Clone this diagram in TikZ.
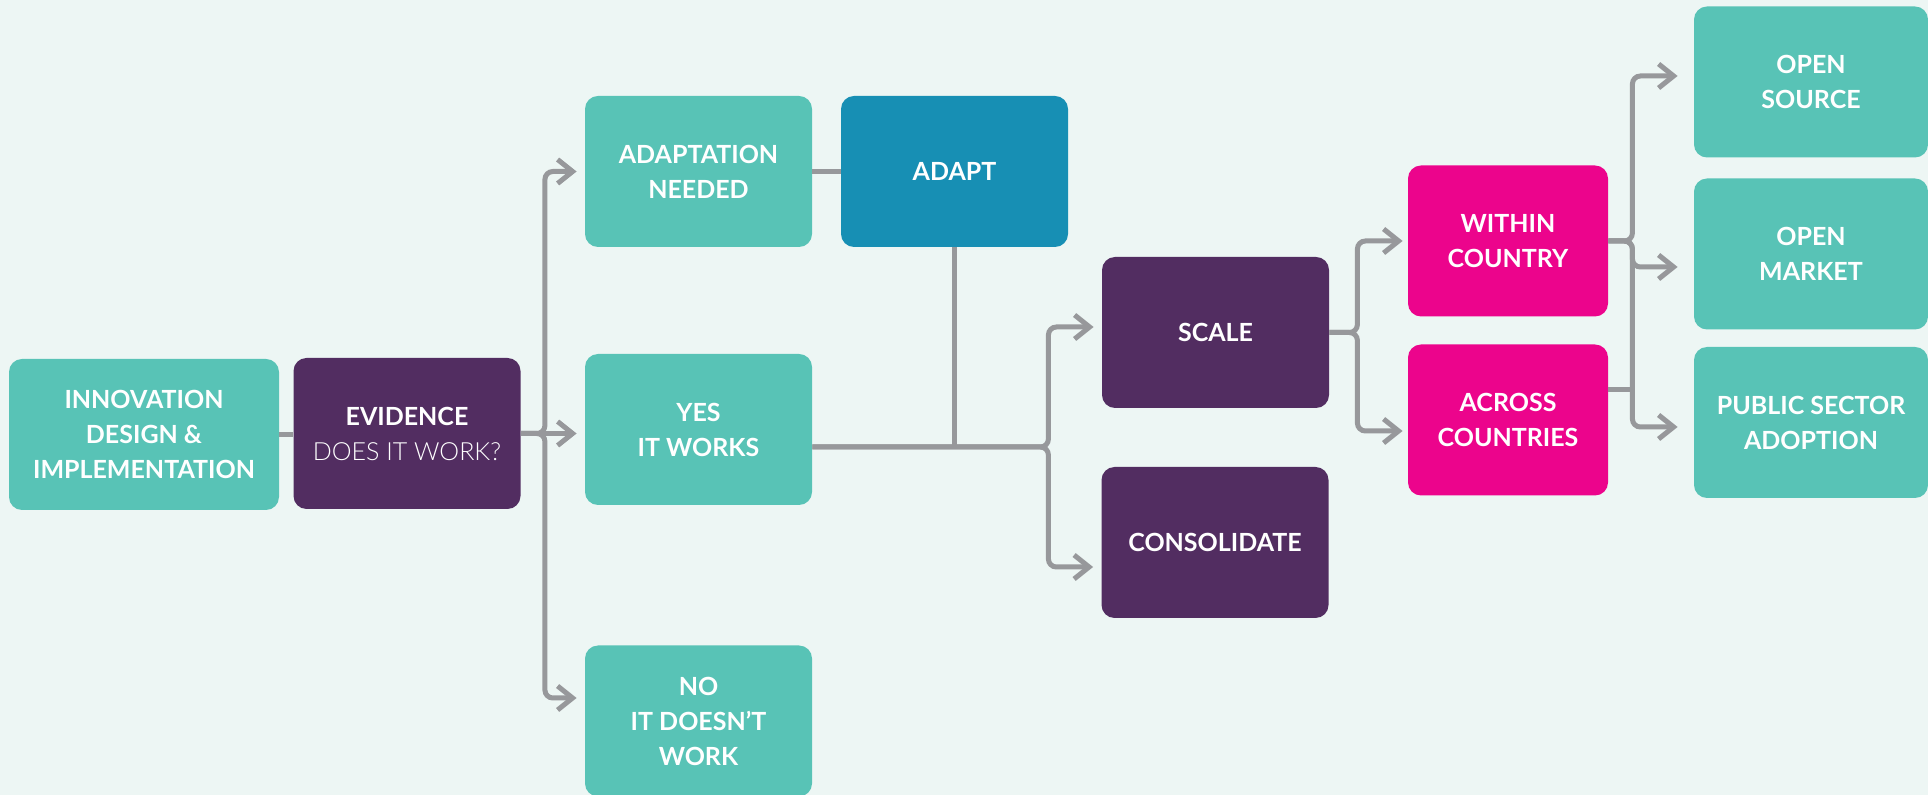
\documentclass[tikz,border=0pt]{standalone}
\usepackage{fontspec}
\setmainfont{Lato}
\newfontfamily\latolight{Lato Light}
\usetikzlibrary{arrows.meta}

\definecolor{bgmint}{RGB}{237,246,244}
\definecolor{boxgreen}{RGB}{88,195,182}
\definecolor{boxpurple}{RGB}{82,45,97}
\definecolor{boxblue}{RGB}{23,143,180}
\definecolor{boxpink}{RGB}{236,4,140}
\definecolor{linegrey}{RGB}{151,152,155}

\begin{document}
\begin{tikzpicture}[x=0.5pt,y=-0.5pt]
        \tikzstyle{box}=[rectangle,rounded corners=6.5pt,minimum height=75.5pt,inner sep=0pt,text=white,align=center,font=\bfseries\fontsize{12.5}{17.5}\selectfont]
        \tikzstyle{greenbox}=[box,fill=boxgreen]
        \tikzstyle{purplebox}=[box,fill=boxpurple,minimum width=113.5pt]
        \tikzstyle{pinkbox}=[box,fill=boxpink,minimum width=100pt]
        \tikzstyle{link}=[draw=linegrey,line width=2.5pt,rounded corners=4pt]
        \tikzstyle{arrow}=[link,-{Straight Barb[length=7.5pt,width=12pt]},shorten >=4pt]

        \fill[bgmint] (0,0) rectangle (1928,795);
        \useasboundingbox (0,0) rectangle (1928,795);

        \foreach \name/\x/\y/\w/\txt in {inno/144/434.5/135/{INNOVATION\\DESIGN \&\\IMPLEMENTATION},
                adneed/698.5/171.5/113.5/{ADAPTATION\\NEEDED}, yes/698.5/429.5/113.5/{YES\\IT WORKS},
                no/698.5/721/113.5/{NO\\IT DOESN’T\\WORK}, opensrc/1811/82/117/{OPEN\\SOURCE},
                openmkt/1811/254/117/{OPEN\\MARKET}, public/1811/422.5/117/{PUBLIC SECTOR\\ADOPTION}}
                \node[greenbox,minimum width=\w pt] (\name) at (\x,\y) {\txt};
        \foreach \name/\x/\y/\txt in {evid/407/433.5/{EVIDENCE\\{\mdseries\latolight DOES IT WORK?}},
                scale/1215.5/332.5/{SCALE}, consol/1215/542.5/{CONSOLIDATE}}
                \node[purplebox] (\name) at (\x,\y) {\txt};
        \node[box,fill=boxblue,minimum width=113.5pt] (adapt) at (954.5,171.5) {ADAPT};
        \foreach \name/\y/\txt in {within/241/{WITHIN\\COUNTRY}, across/420/{ACROSS\\COUNTRIES}}
                \node[pinkbox] (\name) at (1508,\y) {\txt};

        \draw[link] (inno.east) -- (inno.east -| evid.west);
        \draw[link] (adneed.east) -- (adneed.east -| adapt.west);
        \draw[arrow] (evid.east) -- ([yshift=-2pt]yes.west);
        \foreach \to/\dy in {adneed/0, no/11.5}
                \draw[arrow] (evid.east) -- ++(24,0) |- ([yshift=\dy pt]\to.west);

        \coordinate (yesout) at ([yshift=-8.75pt]yes.east);
        \draw[link] (adapt.south) -- (adapt.south |- yesout);
        \foreach \to/\dy in {scale/2.75, consol/-12.25}
                \draw[arrow] (yesout) -- ++(236,0) |- ([yshift=\dy pt]\to.west);

        \foreach \to/\dy in {within/0, across/-5.5}
                \draw[arrow,shorten >=2.5pt] (scale.east) -- ++(28,0) |- ([yshift=\dy pt]\to.west);

        \foreach \to/\dy in {opensrc/3, openmkt/-6.5, public/-2.25}
                \draw[arrow,shorten >=8pt] (within.east) -- ++(24,0) |- ([yshift=\dy pt]\to.west);
        \draw[link] ([yshift=15pt]across.east) -- ++(24,0);
\end{tikzpicture}
\end{document}
